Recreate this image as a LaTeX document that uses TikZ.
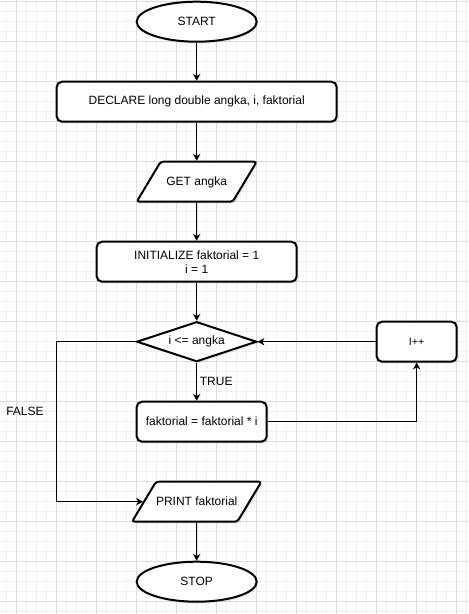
\documentclass[tikz,border=0pt]{standalone}
\usepackage{fontspec}
\setmainfont{Liberation Sans}
\usetikzlibrary{shapes.geometric,arrows.meta,shadows}

\begin{document}
\begin{tikzpicture}[x=0.75pt, y=-0.75pt,
        font=\fontsize{9pt}{10.5pt}\selectfont,
        minor grid/.style={draw=black!6, line width=0.75pt},
        major grid/.style={draw=black!14, line width=0.75pt},
        box/.style={draw, line width=1.5pt, fill=white,
            drop shadow={shadow xshift=1.5pt, shadow yshift=-1.5pt, opacity=0.15}},
        terminal/.style={box, ellipse, minimum width=90pt, minimum height=30pt, inner sep=0pt},
        process/.style={box, rectangle, rounded corners=4pt, minimum height=30pt, align=center},
        inout/.style={box, trapezium, trapezium left angle=59.04, trapezium right angle=120.96,
            trapezium stretches body, minimum width=90pt, text height=7pt, text depth=2pt,
            inner xsep=0pt, inner ysep=10.5pt, rounded corners=2pt},
        decision/.style={box, diamond, aspect=3, minimum width=90pt, minimum height=30pt, inner sep=0pt},
        flow/.style={line width=0.75pt, -{Stealth[length=5pt, width=5.5pt, inset=1.5pt]}}
    ]
    \useasboundingbox[fill=white] (0,0) rectangle (468,614);
    % grid
    \foreach \gx in {6.7,16.7,...,466.7} \draw[minor grid] (\gx,0) -- (\gx,614);
    \foreach \gy in {1.7,11.7,...,611.7} \draw[minor grid] (0,\gy) -- (468,\gy);
    \foreach \gx in {16.7,56.7,...,456.7} \draw[major grid] (\gx,0) -- (\gx,614);
    \foreach \gy in {1.7,41.7,...,601.7} \draw[major grid] (0,\gy) -- (468,\gy);

    \node[terminal] (start) at (196.7,21.7) {START};
    \node[process, minimum width=210pt] (declare) at (196.7,101.7) {DECLARE long double angka, i, faktorial};
    \node[inout] (get) at (196.7,181.7) {GET angka};
    \node[process, minimum width=150pt] (init) at (196.7,261.7) {INITIALIZE faktorial = 1\\i = 1};
    \node[decision] (cond) at (196.7,341.7) {i <= angka};
    \node[process, minimum width=60pt, font=\fontsize{8pt}{10pt}\selectfont] (inc) at (416.7,341.7) {I++};
    \node[process, minimum width=97.5pt] (mult) at (201.7,421.7) {faktorial = faktorial * i};
    \node[inout] (print) at (196.7,501.7) {PRINT faktorial};
    \node[terminal] (stop) at (196.7,581.7) {STOP};
    \node (false) at (25,411) {FALSE};
    \coordinate (falsebend) at (56.7,341.7);

    \draw[flow] (start) -- (declare);
    \draw[flow] (declare) -- (get);
    \draw[flow] (get) -- (init);
    \draw[flow] (init) -- (cond);
    \draw[flow] (cond.south) -- node[anchor=west, inner sep=2pt] {TRUE} (cond.south |- mult.north);
    \draw[flow] (mult.east) -| (inc.south);
    \draw[flow] (inc.west) -- (cond.east);
    \draw[flow] (cond.west) -- (falsebend) |- (print.west);
    \draw[flow] (print) -- (stop);
\end{tikzpicture}
\end{document}
